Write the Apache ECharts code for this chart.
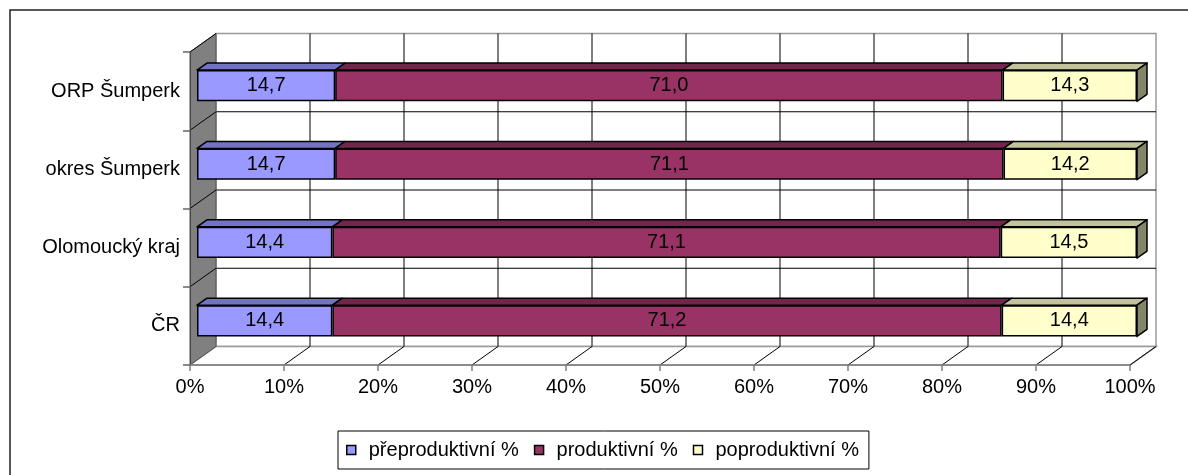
<!DOCTYPE html>
<html><head><meta charset="utf-8">
<script src="https://cdn.jsdelivr.net/npm/echarts@6/dist/echarts.min.js"></script>
<style>html,body{margin:0;padding:0;background:#fff}#c{width:1188px;height:475px}</style>
</head><body><div id="c"></div>
<script>
const categories = ['ČR', 'Olomoucký kraj', 'okres Šumperk', 'ORP Šumperk'];
const seriesNames = ['přeproduktivní %', 'produktivní %', 'poproduktivní %'];
const preprod = [14.4, 14.4, 14.7, 14.7];
const prod = [71.2, 71.1, 71.1, 71.0];
const postprod = [14.4, 14.5, 14.2, 14.3];
const xTickValues = [0, 10, 20, 30, 40, 50, 60, 70, 80, 90, 100];

const FONT = 'Liberation Sans, Arial, sans-serif';
const frontColors = ['#9999FF', '#993366', '#FFFFCC'];
const topColors = ['#7272C6', '#73264C', '#C2C29C'];
const sideColor = '#85856A';
const WDX = 26, WDY = -18.5;   // wall depth
const BDX = 10, BDY = -7;      // bar depth

const values = [preprod, prod, postprod];
const fmt = v => v.toFixed(1).replace('.', ',');

// stacked segments [start, end, catIndex]
const segs = values.map((arr, s) => arr.map((v, i) => {
  let st = 0; for (let k = 0; k < s; k++) st += values[k][i];
  return [st, st + v, i];
}));

const chart = echarts.init(document.getElementById('c'), null, {renderer: 'canvas'});

const bgSeries = {
  type: 'custom', xAxisIndex: 1, yAxisIndex: 1, silent: true, z: 0,
  data: [[0, 0]],
  renderItem: function (params, api) {
    const cs = params.coordSys;
    const x0 = cs.x, x1 = cs.x + cs.width, yt = cs.y, yb = cs.y + cs.height;
    const band = api.size([0, 1])[1];
    const bounds = categories.map((c, i) => api.coord([0, i])[1] - band / 2).filter(y => y > yt + 1 && y < yb - 1);
    const xs = xTickValues.map(v => api.coord([v, 0])[0]);
    const ch = [];
    ch.push({type: 'rect', shape: {x: x0 + WDX, y: yt + WDY, width: x1 - x0, height: yb - yt},
      style: {fill: '#fff', stroke: '#999', lineWidth: 1.5}});
    ch.push({type: 'polygon', shape: {points: [[x0, yb], [x1, yb], [x1 + WDX, yb + WDY], [x0 + WDX, yb + WDY]]},
      style: {fill: '#fff', stroke: '#999', lineWidth: 1.5}});
    xs.forEach((x, k) => {
      if (k > 0 && k < xs.length - 1) {
        ch.push({type: 'line', shape: {x1: x + WDX, y1: yt + WDY, x2: x + WDX, y2: yb + WDY}, style: {stroke: '#000', lineWidth: 1}});
      }
      if (k > 0) {
        ch.push({type: 'line', shape: {x1: x, y1: yb, x2: x + WDX, y2: yb + WDY}, style: {stroke: '#000', lineWidth: 1}});
      }
    });
    bounds.forEach(y => {
      ch.push({type: 'line', shape: {x1: x0 + WDX, y1: y + WDY, x2: x1 + WDX, y2: y + WDY}, style: {stroke: '#000', lineWidth: 1}});
    });
    ch.push({type: 'polygon', shape: {points: [[x0, yt], [x0 + WDX, yt + WDY], [x0 + WDX, yb + WDY], [x0, yb]]},
      style: {fill: '#808080', stroke: '#555', lineWidth: 1}});
    ch.push({type: 'line', shape: {x1: x0, y1: yt, x2: x0 + WDX, y2: yt + WDY}, style: {stroke: '#000', lineWidth: 1}});
    bounds.forEach(y => {
      ch.push({type: 'line', shape: {x1: x0, y1: y, x2: x0 + WDX, y2: y + WDY}, style: {stroke: '#000', lineWidth: 1}});
    });
    return {type: 'group', children: ch};
  }
};

const barSeries = values.map((arr, s) => ({
  name: seriesNames[s], type: 'bar', stack: 'total', xAxisIndex: 0, yAxisIndex: 0,
  barWidth: '40%', z: 3,
  data: arr,
  itemStyle: {color: frontColors[s], borderColor: '#000', borderWidth: 1.5},
  label: {show: true, position: 'inside', formatter: p => fmt(p.value), color: '#000', fontSize: 20, fontFamily: FONT},
  emphasis: {disabled: true}
}));

const topSeries = segs.map((d, s) => ({
  type: 'custom', name: 'top' + s, xAxisIndex: 0, yAxisIndex: 0, z: 4, silent: true,
  data: d,
  renderItem: function (params, api) {
    const a = api.coord([api.value(0), api.value(2)]);
    const b = api.coord([api.value(1), api.value(2)]);
    const h = api.size([0, 1])[1] * 0.4;
    const top = a[1] - h / 2, bot = a[1] + h / 2;
    const ch = [{type: 'polygon', shape: {points: [[a[0], top], [a[0] + BDX, top + BDY], [b[0] + BDX, top + BDY], [b[0], top]]},
      style: {fill: topColors[s], stroke: '#000', lineWidth: 1.5, lineJoin: 'round'}}];
    if (s === values.length - 1) {
      ch.push({type: 'polygon', shape: {points: [[b[0], top], [b[0] + BDX, top + BDY], [b[0] + BDX, bot + BDY], [b[0], bot]]},
        style: {fill: sideColor, stroke: '#000', lineWidth: 1.5, lineJoin: 'round'}});
    }
    return {type: 'group', children: ch};
  }
}));

chart.setOption({
  animation: false,
  textStyle: {fontFamily: FONT},
  graphic: [{type: 'rect', shape: {x: 10, y: 10, width: 1300, height: 600}, style: {fill: 'none', stroke: '#222', lineWidth: 1.5}, silent: true, z: -10}],
  grid: [
    {left: 197, top: 46.5, width: 940, height: 313.5},
    {left: 190, top: 52, width: 940, height: 313}
  ],
  xAxis: [
    {gridIndex: 0, type: 'value', min: 0, max: 100, show: false},
    {gridIndex: 1, type: 'value', min: 0, max: 100, interval: 10, z: 5,
      axisLine: {show: true, lineStyle: {color: '#808080', width: 1.5}},
      axisTick: {show: true, length: 6, lineStyle: {color: '#808080', width: 1.5}},
      splitLine: {show: false},
      axisLabel: {formatter: '{value}%', fontSize: 20, color: '#000', margin: 12, fontFamily: FONT}}
  ],
  yAxis: [
    {gridIndex: 0, type: 'category', data: categories, show: false},
    {gridIndex: 1, type: 'category', data: categories, z: 5,
      axisLine: {show: true, lineStyle: {color: '#444', width: 1}},
      axisTick: {show: true, length: 7, lineStyle: {color: '#666', width: 1.5}},
      axisLabel: {fontSize: 20, color: '#000', margin: 10, fontFamily: FONT}}
  ],
  legend: {
    data: seriesNames, left: 338, top: 431, orient: 'horizontal',
    icon: 'rect', itemWidth: 9, itemHeight: 9, itemGap: 15,
    borderColor: '#000', borderWidth: 1, padding: [9, 10, 9, 8],
    itemStyle: {borderColor: '#000', borderWidth: 1.5},
    textStyle: {fontSize: 20, color: '#000', fontFamily: FONT, padding: [0, 0, 0, 8]},
    selectedMode: false
  },
  series: [bgSeries].concat(barSeries, topSeries)
});
</script></body></html>
